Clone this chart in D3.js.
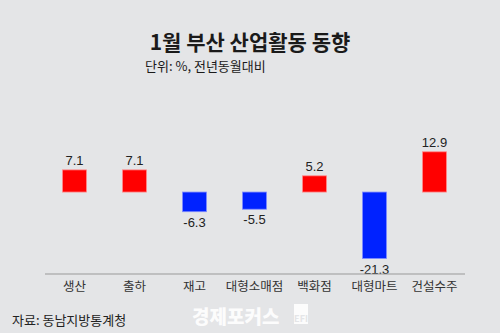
<!DOCTYPE html>
<html>
<head>
<meta charset="utf-8">
<script src="https://cdn.jsdelivr.net/npm/d3@7"></script>
<style>
  html, body { margin: 0; padding: 0; background: #e4e5e7; }
  svg { display: block; }
  text { font-family: "Noto Sans CJK KR", "Noto Sans", sans-serif; }
</style>
</head>
<body>
<svg id="chart" width="500" height="333"></svg>
<script>
// 1월 부산 산업활동 동향 (전년동월대비, %)
const categories = ["생산", "출하", "재고", "대형소매점", "백화점", "대형마트", "건설수주"];
const values = [7.1, 7.1, -6.3, -5.5, 5.2, -21.3, 12.9];
const valueLabels = ["7.1", "7.1", "-6.3", "-5.5", "5.2", "-21.3", "12.9"];

const svg = d3.select("#chart");
const W = 500, H = 333;

svg.append("rect").attr("width", W).attr("height", H).attr("fill", "#e4e5e7");

const x = d3.scaleBand().domain(categories).range([44.5, 464.5]).paddingInner(0.6).paddingOuter(0.3);
const y = d3.scaleLinear().domain([-21.3, 12.9]).range([258.5, 151.8]);

// 제목
svg.append("text")
  .attr("x", 250).attr("y", 50)
  .attr("text-anchor", "middle")
  .attr("font-size", 21).attr("font-weight", 700)
  .attr("fill", "#1a1a1a")
  .text("1월 부산 산업활동 동향");

svg.append("text")
  .attr("x", 145).attr("y", 71)
  .attr("font-size", 13)
  .attr("fill", "#1a1a1a")
  .text("단위: %, 전년동월대비");

// 막대
const bars = svg.append("g");
bars.selectAll("rect")
  .data(categories)
  .join("rect")
  .attr("x", d => x(d))
  .attr("width", x.bandwidth())
  .attr("y", (d, i) => Math.min(y(values[i]), y(0)))
  .attr("height", (d, i) => Math.abs(y(values[i]) - y(0)))
  .attr("fill", (d, i) => values[i] >= 0 ? "#ff0000" : "#0022ff")
  .attr("stroke", (d, i) => values[i] >= 0 ? "#ff8a8a" : "#7f8cff")
  .attr("stroke-width", 0.8);

// 값 라벨
svg.append("g").selectAll("text")
  .data(categories)
  .join("text")
  .attr("x", d => x(d) + x.bandwidth() / 2)
  .attr("y", (d, i) => values[i] >= 0 ? y(values[i]) - 5 : y(values[i]) + 15)
  .attr("text-anchor", "middle")
  .attr("font-size", 13)
  .attr("fill", "#222")
  .style("font-family", '"Liberation Sans", Arial, sans-serif')
  .text((d, i) => valueLabels[i]);

// 범주 축
const axis = svg.append("g").attr("transform", "translate(0,273.5)")
  .call(d3.axisBottom(x).tickSize(0).tickPadding(9));
axis.select(".domain").attr("stroke", "#999").attr("stroke-width", 1);
axis.selectAll("text")
  .attr("font-size", 12.5)
  .attr("fill", "#333")
  .style("font-family", '"Noto Sans CJK KR", sans-serif');

// 출처
svg.append("text")
  .attr("x", 12).attr("y", 325)
  .attr("font-size", 13)
  .attr("fill", "#222")
  .text("자료: 동남지방통계청");

// 워터마크
const wm = svg.append("g").attr("opacity", 0.9);
wm.append("text")
  .attr("x", 192).attr("y", 324)
  .attr("font-size", 19).attr("font-weight", 900)
  .attr("fill", "#ffffff")
  .text("경제포커스");
wm.append("rect")
  .attr("x", 294).attr("y", 304).attr("width", 14).attr("height", 20)
  .attr("fill", "#ffffff");
wm.append("text")
  .attr("x", 301).attr("y", 322)
  .attr("text-anchor", "middle")
  .attr("font-size", 9).attr("font-weight", 700)
  .attr("fill", "#e4e5e7")
  .text("EFI");
</script>
</body>
</html>
